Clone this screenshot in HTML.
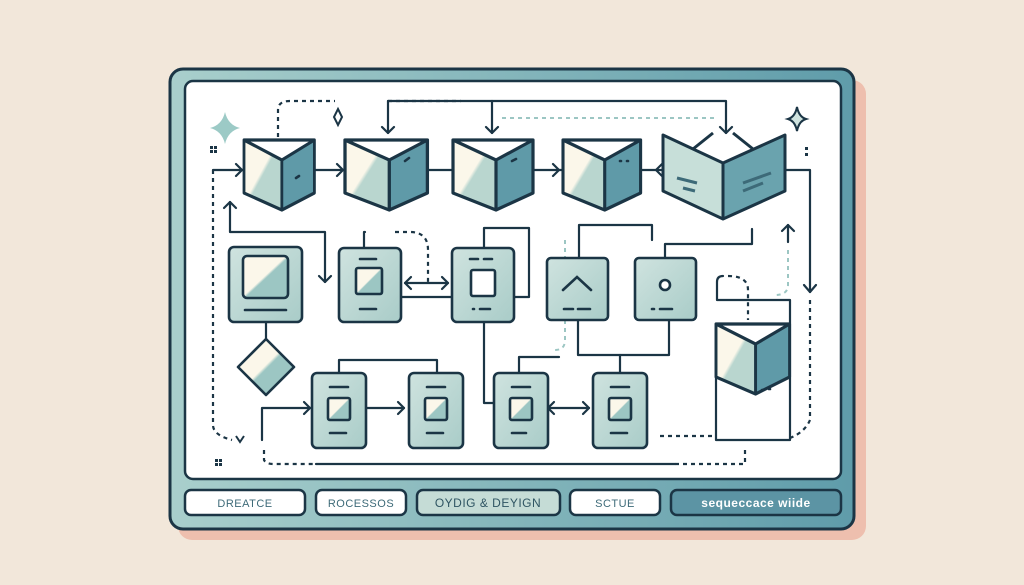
<!DOCTYPE html>
<html><head><meta charset="utf-8"><style>
html,body{margin:0;padding:0;background:#f2e7da;}
svg{display:block;}
text{font-family:"Liberation Sans",sans-serif;}
</style></head><body>
<svg width="1024" height="585" viewBox="0 0 1024 585" xmlns="http://www.w3.org/2000/svg">
<defs>
<linearGradient id="fr" x1="0" y1="0" x2="1" y2="0"><stop offset="0" stop-color="#a9cfcc"/><stop offset="1" stop-color="#5f9caa"/></linearGradient>
<linearGradient id="lf" x1="0" y1="0" x2="1" y2="1"><stop offset="0.45" stop-color="#fbf7ea"/><stop offset="0.5" stop-color="#b9d6cf"/></linearGradient>
<linearGradient id="cd" x1="0" y1="0" x2="1" y2="1"><stop offset="0" stop-color="#cfe3df"/><stop offset="1" stop-color="#a9ccc8"/></linearGradient>
<linearGradient id="sc" x1="0" y1="0" x2="1" y2="1"><stop offset="0.48" stop-color="#fbf7ea"/><stop offset="0.52" stop-color="#9cc6c3"/></linearGradient>
<g id="cube">
<polygon points="0,2 43,22 43,72 0,55" fill="url(#lf)"/>
<polygon points="43,22 80,2 80,55 43,72" fill="#5f9aa8"/>
<polygon points="0,2 80,2 43,22" fill="#fff"/>
<path d="M0,2 L80,2 L80,55 L43,72 L0,55Z M0,2 L43,22 L80,2 M43,22 V72" fill="none" stroke="#1b3545" stroke-width="3.2" stroke-linejoin="round"/>
</g>
</defs>
<rect x="178" y="80" width="688" height="460" rx="14" fill="#eebfae"/>
<rect x="170" y="69" width="684" height="460" rx="13" fill="url(#fr)" stroke="#1b3545" stroke-width="3"/>
<rect x="185" y="81" width="656" height="398" rx="8" fill="#fff" stroke="#1b3545" stroke-width="2.5"/>
<g stroke="#1b3545" stroke-width="2.5" font-size="11" text-anchor="middle" letter-spacing="0.5">
<rect x="185" y="490" width="120" height="25" rx="6" fill="#fff"/>
<rect x="316" y="490" width="90" height="25" rx="6" fill="#fff"/>
<rect x="417" y="490" width="143" height="25" rx="6" fill="#c5dcd6"/>
<rect x="570" y="490" width="90" height="25" rx="6" fill="#fff"/>
<rect x="671" y="490" width="170" height="25" rx="6" fill="#5c94a4"/>
</g>
<g font-size="11" text-anchor="middle" fill="#3d6a78" letter-spacing="0.5">
<text x="245" y="507">DREATCE</text>
<text x="361" y="507">ROCESSOS</text>
<text x="488" y="507" fill="#2f5563" font-size="12">OYDIG &amp; DEYIGN</text>
<text x="615" y="507">SCTUE</text>
<text x="756" y="507" fill="#fff" font-size="12" font-weight="bold">sequeccace wiide</text>
</g>
<g fill="none" stroke="#1b3545" stroke-width="2.2" stroke-linecap="round" stroke-linejoin="round">
<path d="M213,170 H790 H810 V292"/>
<path d="M804,285 L810,292 L816,285"/>
<path d="M388,101 H726 V133"/><path d="M720,127 L726,133 L732,127"/>
<path d="M388,101 V133"/><path d="M382,127 L388,133 L394,127"/>
<path d="M492,101 V133"/><path d="M486,127 L492,133 L498,127"/>
<path d="M236,164 L242,170 L236,176 M337,164 L343,170 L337,176 M553,164 L559,170 L553,176 M662,164 L656,170 L662,176"/>
<path d="M230,202 V232 H325 V282"/><path d="M224,208 L230,202 L236,208"/><path d="M319,276 L325,282 L331,276"/>
<path d="M405,283 H448"/><path d="M411,277 L405,283 L411,289 M442,277 L448,283 L442,289"/>
<path d="M364,248 V232 H365"/>
<path d="M484,248 V228 H529 V297 H364 V322"/>
<path d="M484,322 V403 H493"/>
<path d="M579,258 V225 H652 V240"/>
<path d="M665,258 V244 H752 V229"/>
<path d="M578,320 V355 H669 V320"/>
<path d="M620,355 V373"/>
<path d="M519,373 V357 H559"/>
<path d="M266,322 V340"/>
<path d="M339,373 V360 H437 V373"/>
<path d="M262,440 V408 H310"/><path d="M304,402 L310,408 L304,414"/>
<path d="M366,408 H404"/><path d="M398,402 L404,408 L398,414"/>
<path d="M548,408 H589"/><path d="M554,402 L548,408 L554,414 M583,402 L589,408 L583,414"/>
<path d="M716,330 V440 H790 V300 H717 V282 Q717,276 723,276"/>
<path d="M316,464 H675"/>
<path d="M788,242 V225"/><path d="M782,231 L788,225 L794,231"/>
</g>
<g fill="none" stroke="#1b3545" stroke-width="2.2" stroke-dasharray="4 4">
<path d="M213,170 V425 Q213,435 232,440"/>
<path d="M278,137 V110 Q278,101 290,101 H335"/>
<path d="M388,101 H461"/>
<path d="M395,232 H410 Q428,232 428,250 V283"/>
<path d="M728,276 Q748,276 748,290 V320"/>
<path d="M660,436 H715"/>
<path d="M810,300 V420 Q805,432 790,438"/>
<path d="M264,450 V460 Q266,464 274,464 H316"/>
<path d="M675,464 H745 V450"/>
</g>
<g fill="none" stroke="#9cc6c3" stroke-width="2" stroke-dasharray="4 4">
<path d="M502,118 H718"/><path d="M788,250 V285 Q788,295 775,295"/>
<path d="M565,240 V340 Q565,350 555,350"/>
</g>
<path d="M236,436 L240,442 L244,436" fill="none" stroke="#1b3545" stroke-width="2"/>
<use href="#cube" transform="translate(244,138) scale(0.88,1)"/>
<use href="#cube" transform="translate(345,138) scale(1.03,1)"/>
<use href="#cube" transform="translate(453,138) scale(1,1)"/>
<use href="#cube" transform="translate(563,138) scale(0.97,1)"/>
<g transform="translate(663,133)">
<polygon points="0,2 60,30 60,86 0,58" fill="#c7dfd9"/>
<polygon points="60,30 122,2 122,58 60,86" fill="#6aa3ae"/>
<path d="M0,2 L60,30 L122,2 L122,58 L60,86 L0,58Z M60,30 V86 M30,16 L50,0 M90,16 L70,0" fill="none" stroke="#1b3545" stroke-width="3" stroke-linejoin="round"/>
<path d="M14,45 L34,50 M20,55 L32,58 M80,50 L108,40 M80,58 L100,50" stroke="#3d6a78" stroke-width="3"/>
</g>
<use href="#cube" transform="translate(716,322) scale(0.92,1)"/>
<g stroke="#1b3545" stroke-width="2.6" fill="url(#cd)">
<rect x="229" y="247" width="73" height="75" rx="5"/>
<rect x="243" y="256" width="45" height="42" rx="4" fill="url(#sc)"/>
<rect x="339" y="248" width="62" height="74" rx="5"/>
<rect x="356" y="268" width="26" height="26" rx="2" fill="url(#sc)"/>
<rect x="452" y="248" width="62" height="74" rx="5"/>
<rect x="471" y="270" width="24" height="26" rx="2" fill="#fff"/>
<rect x="547" y="258" width="61" height="62" rx="4"/>
<rect x="635" y="258" width="61" height="62" rx="4"/>
<circle cx="665" cy="285" r="5" fill="#fff"/>
<polygon points="266,339 294,367 266,395 238,367" fill="url(#sc)" stroke-linejoin="round"/>
<rect x="312" y="373" width="54" height="75" rx="5"/>
<rect x="328" y="398" width="22" height="22" rx="2" fill="url(#sc)"/>
<rect x="409" y="373" width="54" height="75" rx="5"/>
<rect x="425" y="398" width="22" height="22" rx="2" fill="url(#sc)"/>
<rect x="494" y="373" width="54" height="75" rx="5"/>
<rect x="510" y="398" width="22" height="22" rx="2" fill="url(#sc)"/>
<rect x="593" y="373" width="54" height="75" rx="5"/>
<rect x="609" y="398" width="22" height="22" rx="2" fill="url(#sc)"/>
</g>
<g stroke="#1b3545" stroke-width="2.6" fill="none" stroke-linecap="round">
<path d="M245,310 H286 M360,259 H376 M360,309 H376 M470,259 H478 M484,259 H492 M473,309 H474 M480,309 H490"/>
<path d="M563,290 L577,277 L591,290 M564,309 H573 M578,309 H590 M652,309 H654 M660,309 H672"/>
<path d="M330,387 H348 M330,433 H346 M427,387 H445 M427,433 H443 M512,387 H530 M512,433 H526 M611,387 H629 M611,433 H627"/>
</g>
<g stroke="#1b3545" stroke-width="2.6" stroke-linecap="round"><path d="M296,178 L299,176 M405,161 L409,158 M512,161 L516,159 M620,161 L621,161 M627,161 L628,161 M762,390 L763,390 M769,389 L770,389"/></g>
<path d="M225,112 Q228,125 240,128 Q228,131 225,144 Q222,131 210,128 Q222,125 225,112Z" fill="#9ccac6"/>
<path d="M338,109 L342,117 L338,125 L334,117Z" fill="none" stroke="#1b3545" stroke-width="2"/>
<path d="M797,107 Q799,117 806,119 Q799,121 797,131 Q795,121 788,119 Q795,117 797,107Z" fill="#cfe3df" stroke="#1b3545" stroke-width="2"/>
<g fill="#1b3545"><rect x="210" y="146" width="3" height="3"/><rect x="214" y="146" width="3" height="3"/><rect x="210" y="150" width="3" height="3"/><rect x="214" y="150" width="3" height="3"/><rect x="215" y="459" width="3" height="3"/><rect x="219" y="459" width="3" height="3"/><rect x="215" y="463" width="3" height="3"/><rect x="219" y="463" width="3" height="3"/><rect x="805" y="147" width="3" height="3"/><rect x="805" y="153" width="3" height="3"/></g>
</svg>
</body></html>
